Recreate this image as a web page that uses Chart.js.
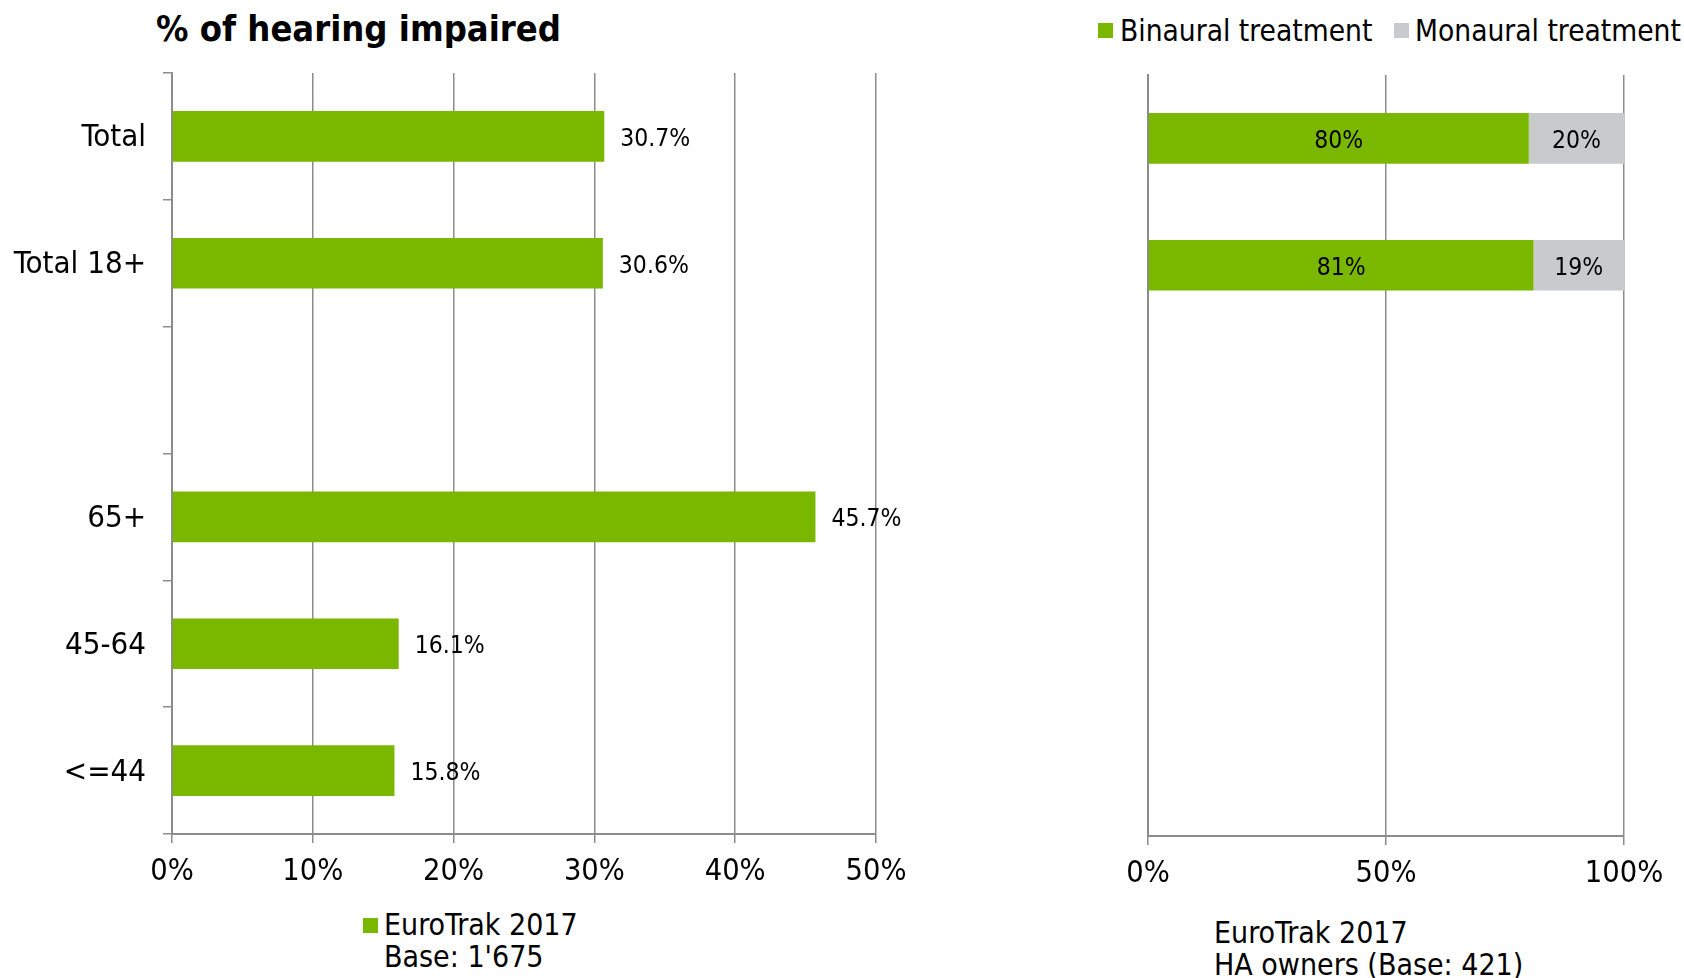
<!DOCTYPE html>
<html>
<head>
<meta charset="utf-8">
<script src="https://cdn.jsdelivr.net/npm/chart.js@4/dist/chart.umd.min.js"></script>
<style>
  body { margin: 0; background: #fff; width: 1684px; height: 978px; position: relative; overflow: hidden;
         font-family: 'DejaVu Sans Condensed', 'DejaVu Sans', sans-serif; color: #000; }
  .abs { position: absolute; white-space: nowrap; }
  .sq { position: absolute; width: 15px; height: 15px; }
  #title { left: 156px; top: 9px; font-size: 36px; line-height: 40px; font-weight: bold; }
  .txt { font-size: 30px; line-height: 32px; }
  .top { font-size: 29.6px; }
</style>
</head>
<body>
<div id="title" class="abs">% of hearing impaired</div>

<div class="sq" style="left:1098px; top:23px; background:#7ab800"></div>
<div class="abs txt top" style="left:1120px; top:15px">Binaural treatment</div>
<div class="sq" style="left:1394px; top:23px; background:#c8cacc"></div>
<div class="abs txt top" style="left:1415px; top:15px">Monaural treatment</div>

<div class="sq" style="left:363px; top:918px; background:#7ab800"></div>
<div class="abs txt" style="left:384px; top:909px">EuroTrak 2017</div>
<div class="abs txt" style="left:384px; top:941px">Base: 1'675</div>

<div class="abs txt" style="left:1214px; top:917px">EuroTrak 2017</div>
<div class="abs txt" style="left:1214px; top:949px">HA owners (Base: 421)</div>

<canvas id="leftChart" width="940" height="900" style="position:absolute; left:0; top:0"></canvas>
<canvas id="rightChart" width="594" height="900" style="position:absolute; left:1090px; top:0"></canvas>

<script>
const categories = ['Total', 'Total 18+', '', '65+', '45-64', '<=44'];
const impaired = [30.7, 30.6, null, 45.7, 16.1, 15.8];
const binaural = [80, 81, null, null, null, null];
const monaural = [20, 19, null, null, null, null];
const leftTicks = [0, 10, 20, 30, 40, 50];
const rightTicks = [0, 50, 100];

const FONT = "'DejaVu Sans Condensed', 'DejaVu Sans', sans-serif";
const GREEN = '#7ab800';
const GREY = '#c8cacc';
const LINE = '#8c8c8c';

const valueLabels = {
    id: 'valueLabels',
    afterDatasetsDraw(chart, args, opts) {
        const ctx = chart.ctx;
        ctx.save();
        ctx.font = '24.5px ' + FONT;
        ctx.fillStyle = '#000';
        ctx.textBaseline = 'middle';
        chart.data.datasets.forEach((ds, i) => {
            chart.getDatasetMeta(i).data.forEach((bar, j) => {
                const v = ds.data[j];
                if (v == null) return;
                if (opts.inside) {
                    ctx.textAlign = 'center';
                    ctx.fillText(v + '%', (bar.x + bar.base) / 2, bar.y + 3);
                } else {
                    ctx.textAlign = 'left';
                    ctx.fillText(v.toFixed(1) + '%', bar.x + 16, bar.y + 3);
                }
            });
        });
        ctx.restore();
    }
};

Chart.defaults.font.family = FONT;
Chart.defaults.color = '#000';

new Chart(document.getElementById('leftChart'), {
    type: 'bar',
    data: {
        labels: categories,
        datasets: [{
            label: 'EuroTrak 2017',
            data: impaired,
            backgroundColor: GREEN,
            barPercentage: 0.4,
            categoryPercentage: 1
        }]
    },
    options: {
        indexAxis: 'y',
        responsive: false,
        animation: false,
        layout: { padding: { top: 73, right: 64, left: 0, bottom: 0 } },
        plugins: { legend: { display: false }, tooltip: { enabled: false }, valueLabels: { inside: false } },
        scales: {
            x: {
                min: 0, max: 50,
                afterBuildTicks: s => { s.ticks = leftTicks.map(v => ({ value: v })); },
                ticks: { callback: v => v + '%', font: { size: 30.5 }, padding: 11, maxRotation: 0 },
                grid: { color: LINE, lineWidth: 1.5, tickLength: 9 },
                border: { color: LINE, width: 2 },
                afterFit: s => { s.height = 66; }
            },
            y: {
                ticks: { font: { size: 31 }, padding: 17, labelOffset: 2 },
                grid: { drawOnChartArea: false, color: LINE, lineWidth: 1.5, tickLength: 9, offset: true },
                border: { color: LINE, width: 2 },
                afterFit: s => { s.width = 172; }
            }
        }
    },
    plugins: [valueLabels]
});

new Chart(document.getElementById('rightChart'), {
    type: 'bar',
    data: {
        labels: categories,
        datasets: [
            { label: 'Binaural treatment', data: binaural, backgroundColor: GREEN, barPercentage: 0.4, categoryPercentage: 1 },
            { label: 'Monaural treatment', data: monaural, backgroundColor: GREY, barPercentage: 0.4, categoryPercentage: 1 }
        ]
    },
    options: {
        indexAxis: 'y',
        responsive: false,
        animation: false,
        layout: { padding: { top: 75, right: 60, left: 0, bottom: 0 } },
        plugins: { legend: { display: false }, tooltip: { enabled: false }, valueLabels: { inside: true } },
        scales: {
            x: {
                stacked: true,
                min: 0, max: 100,
                afterBuildTicks: s => { s.ticks = rightTicks.map(v => ({ value: v })); },
                ticks: { callback: v => v + '%', font: { size: 30.5 }, padding: 11, maxRotation: 0 },
                grid: { color: LINE, lineWidth: 1.5, tickLength: 9 },
                border: { color: LINE, width: 2 },
                afterFit: s => { s.height = 64; }
            },
            y: {
                stacked: true,
                ticks: { display: false },
                grid: { display: false },
                border: { color: LINE, width: 2 },
                afterFit: s => { s.width = 58; }
            }
        }
    },
    plugins: [valueLabels]
});
</script>
</body>
</html>
